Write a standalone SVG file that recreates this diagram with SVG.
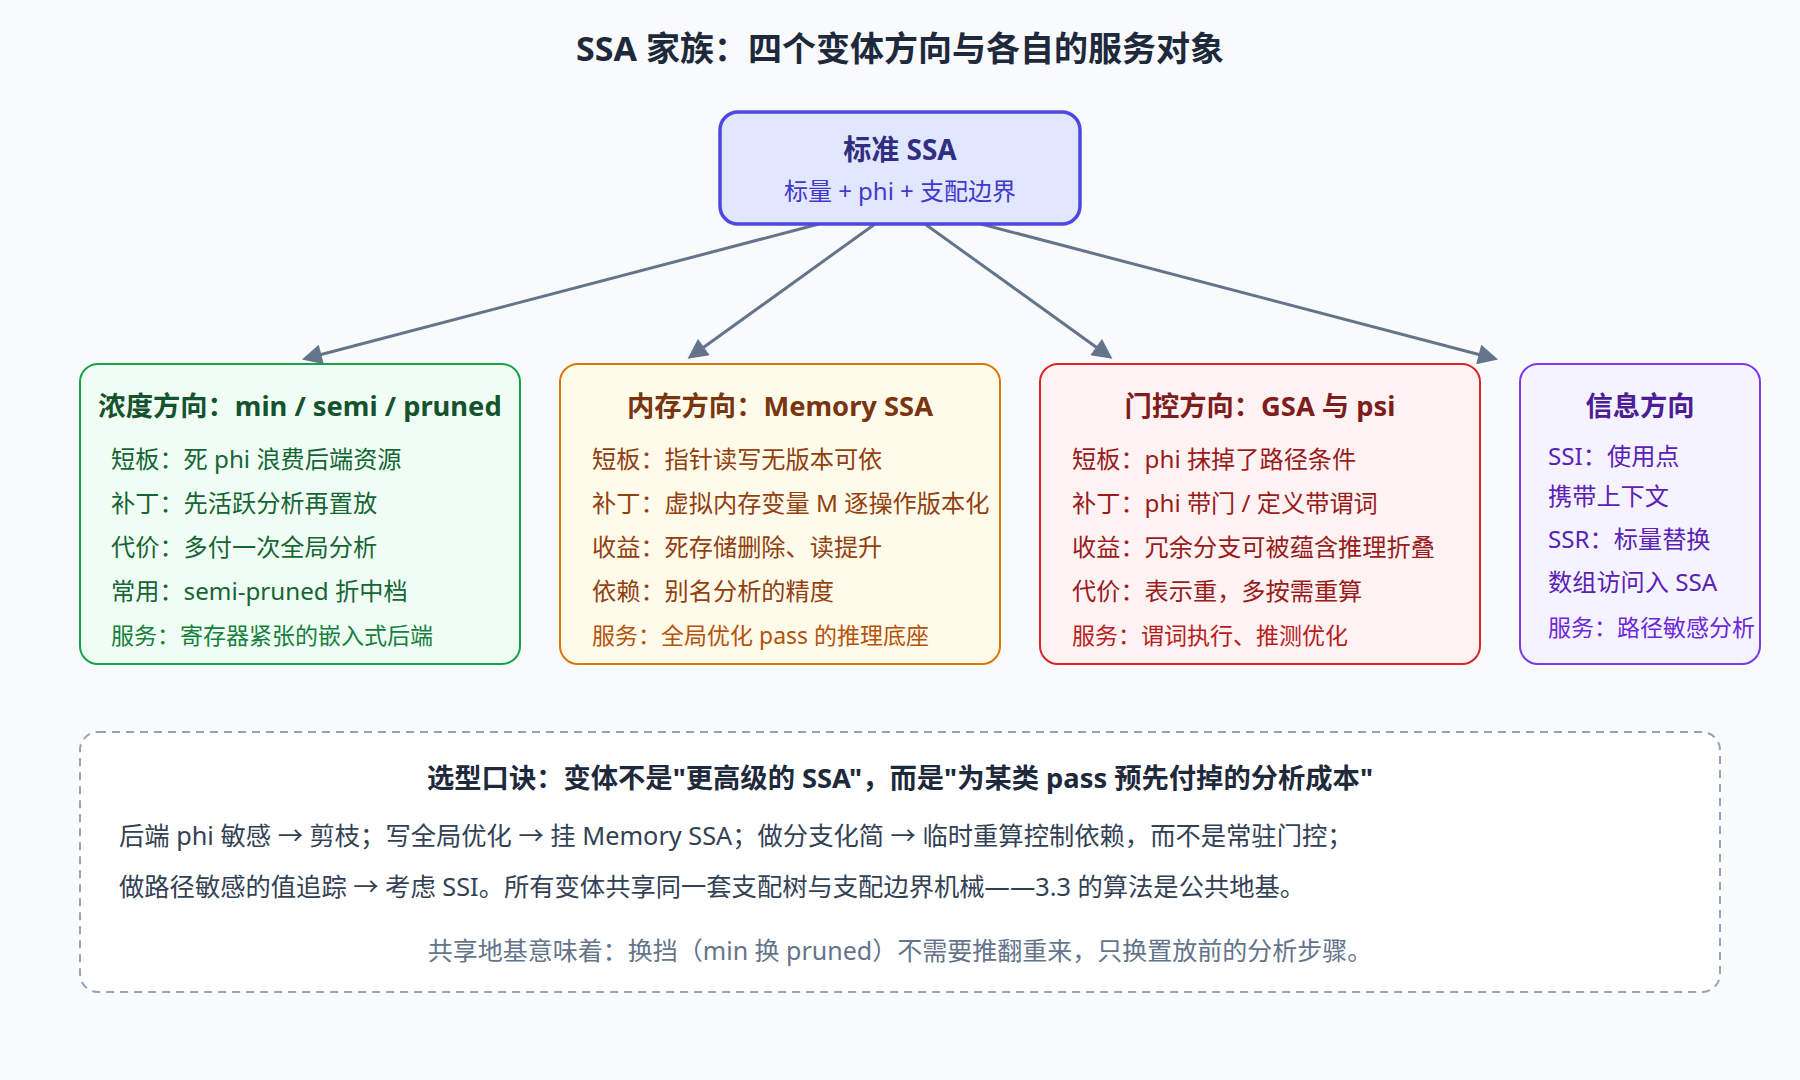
<svg xmlns="http://www.w3.org/2000/svg" width="1800" height="1080" viewBox="0 0 1800 1080">
<defs>
<marker id="ah" viewBox="0 0 10 10" refX="5" refY="5" markerUnits="userSpaceOnUse" markerWidth="24" markerHeight="20" orient="auto">
<path d="M0,0 L10,5 L0,10 z" fill="#64748b"/>
</marker>
</defs>
<style>
text{font-family:"Noto Sans","Noto Sans CJK SC",sans-serif;}
.title{font-size:34px;font-weight:700;fill:#1e293b;}
.box{stroke-width:2;}
.ht{font-size:27.3px;font-weight:700;text-anchor:middle;}
.bd{font-size:24.2px;}
.sv{font-size:23px;}
.edge{stroke:#64748b;stroke-width:3;fill:none;marker-end:url(#ah);}
</style>
<rect width="1800" height="1080" fill="#f8fafc"/>
<text class="title" x="900" y="61" text-anchor="middle">SSA 家族：四个变体方向与各自的服务对象</text>

<g id="connectors">
<path class="edge" d="M819,224 L311.6,357"/>
<path class="edge" d="M875,224 L695.7,353"/>
<path class="edge" d="M925,224 L1104.3,353"/>
<path class="edge" d="M981,224 L1488.4,357"/>
</g>

<g id="node-std">
<rect x="720" y="112" width="360" height="112" rx="18" fill="#e0e7ff" stroke="#4f46e5" stroke-width="3.5"/>
<text x="900" y="160" text-anchor="middle" font-size="28" font-weight="700" fill="#312e81">标准 SSA</text>
<text x="900" y="200" text-anchor="middle" font-size="24" fill="#4338ca">标量 + phi + 支配边界</text>
</g>

<g id="node-density">
<rect class="box" x="80" y="364" width="440" height="300" rx="18" fill="#f0fdf4" stroke="#16a34a"/>
<text class="ht" x="300" y="416" fill="#14532d">浓度方向：min / semi / pruned</text>
<g fill="#166534">
<text class="bd" x="111" y="468">短板：死 phi 浪费后端资源</text>
<text class="bd" x="111" y="512">补丁：先活跃分析再置放</text>
<text class="bd" x="111" y="556">代价：多付一次全局分析</text>
<text class="bd" x="111" y="600">常用：semi-pruned 折中档</text>
</g>
<text class="sv" x="111" y="644" fill="#15803d">服务：寄存器紧张的嵌入式后端</text>
</g>

<g id="node-memory">
<rect class="box" x="560" y="364" width="440" height="300" rx="18" fill="#fffbeb" stroke="#d97706"/>
<text class="ht" x="780" y="416" fill="#78350f">内存方向：Memory SSA</text>
<g fill="#92400e">
<text class="bd" x="592" y="468">短板：指针读写无版本可依</text>
<text class="bd" x="592" y="512">补丁：虚拟内存变量 M 逐操作版本化</text>
<text class="bd" x="592" y="556">收益：死存储删除、读提升</text>
<text class="bd" x="592" y="600">依赖：别名分析的精度</text>
</g>
<text class="sv" x="592" y="644" fill="#b45309">服务：全局优化 pass 的推理底座</text>
</g>

<g id="node-gating">
<rect class="box" x="1040" y="364" width="440" height="300" rx="18" fill="#fef2f2" stroke="#dc2626"/>
<text class="ht" x="1260" y="416" fill="#7f1d1d">门控方向：GSA 与 psi</text>
<g fill="#991b1b">
<text class="bd" x="1072" y="468">短板：phi 抹掉了路径条件</text>
<text class="bd" x="1072" y="512">补丁：phi 带门 / 定义带谓词</text>
<text class="bd" x="1072" y="556">收益：冗余分支可被蕴含推理折叠</text>
<text class="bd" x="1072" y="600">代价：表示重，多按需重算</text>
</g>
<text class="sv" x="1072" y="644" fill="#b91c1c">服务：谓词执行、推测优化</text>
</g>

<g id="node-info">
<rect class="box" x="1520" y="364" width="240" height="300" rx="18" fill="#f5f3ff" stroke="#7c3aed"/>
<text class="ht" x="1640" y="416" fill="#4c1d95">信息方向</text>
<g fill="#5b21b6">
<text class="bd" x="1548" y="465">SSI：使用点</text>
<text class="bd" x="1548" y="505">携带上下文</text>
<text class="bd" x="1548" y="548">SSR：标量替换</text>
<text class="bd" x="1548" y="591">数组访问入 SSA</text>
</g>
<text class="sv" x="1548" y="636" fill="#6d28d9">服务：路径敏感分析</text>
</g>

<g id="note">
<rect x="80" y="732" width="1640" height="260" rx="18" fill="#ffffff" stroke="#94a3b8" stroke-width="2" stroke-dasharray="8 6"/>
<text x="900" y="788" text-anchor="middle" font-size="27.3" font-weight="700" fill="#1e293b">选型口诀：变体不是"更高级的 SSA"，而是"为某类 pass 预先付掉的分析成本"</text>
<text x="119" y="845" font-size="25.3" fill="#334155">后端 phi 敏感 → 剪枝；写全局优化 → 挂 Memory SSA；做分支化简 → 临时重算控制依赖，而不是常驻门控；</text>
<text x="119" y="896" font-size="25.3" fill="#334155">做路径敏感的值追踪 → 考虑 SSI。所有变体共享同一套支配树与支配边界机械——3.3 的算法是公共地基。</text>
<text x="900" y="960" text-anchor="middle" font-size="25" fill="#64748b">共享地基意味着：换挡（min 换 pruned）不需要推翻重来，只换置放前的分析步骤。</text>
</g>
</svg>
